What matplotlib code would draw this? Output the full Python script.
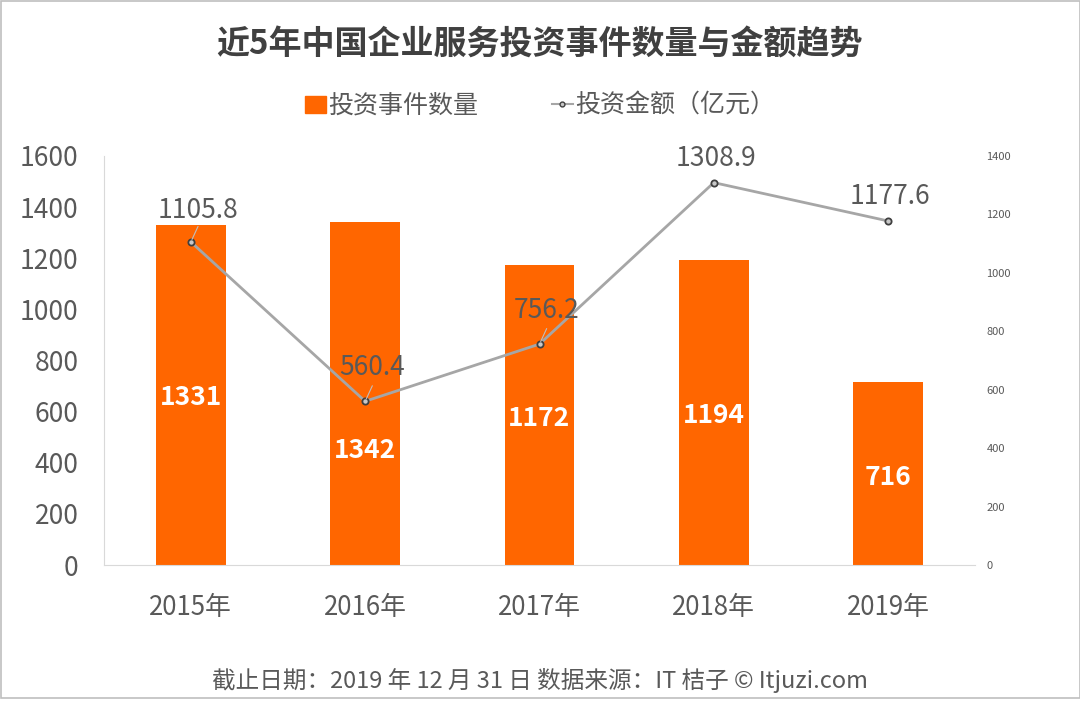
import matplotlib
matplotlib.use('Agg')
import matplotlib.pyplot as plt
from matplotlib.lines import Line2D
from matplotlib.patches import Rectangle

plt.rcParams['font.family'] = ['Noto Sans CJK SC', 'DejaVu Sans']

W, H = 1080, 707

years = ['2015年', '2016年', '2017年', '2018年', '2019年']
deals = [1331, 1342, 1172, 1194, 716]
amount = [1105.8, 560.4, 756.2, 1308.9, 1177.6]
left_ticks = [0, 200, 400, 600, 800, 1000, 1200, 1400, 1600]
right_ticks = [0, 200, 400, 600, 800, 1000, 1200, 1400]

# label placement, the original labels were moved by hand
deal_label_y = [656, 448, 574, 586, 343]
amount_label_dx = [5.5, 5, 5, 1.5, 1]
amount_label_dy = [23, 24, 24, 17.5, 17.5]

ORANGE = '#ff6600'
GREY = '#a6a6a6'
TEXT = '#595959'

fig = plt.figure(figsize=(W / 100, H / 100), dpi=100, facecolor='white')
ax = fig.add_axes([103.7 / W, 1 - 565 / H, 871.6 / W, 409 / H])
x = range(len(years))

ax.bar(x, deals, width=0.4, color=ORANGE, zorder=2)
ax.set_xlim(-0.5, 4.5)
ax.set_ylim(0, 1600)
ax.set_xticks(list(x))
ax.set_xticklabels(years, fontsize=18.6, color=TEXT)
ax.set_yticks(left_ticks)
ax.tick_params(axis='y', labelsize=19, labelcolor=TEXT, length=0, pad=18)
ax.tick_params(axis='x', length=0, pad=21)

ax2 = ax.twinx()
ax2.plot(x, amount, color=GREY, lw=2, marker='o', ms=4.5, mfc='#c8c8c8',
         mec='#404040', mew=1.3, zorder=3)
ax2.set_ylim(0, 1400)
ax2.set_yticks(right_ticks)
ax2.tick_params(axis='y', labelsize=8, labelcolor=TEXT, length=0, pad=8)

for a in (ax, ax2):
    for s in ['top', 'right']:
        a.spines[s].set_visible(False)
    a.spines['left'].set_color('#d9d9d9')
    a.spines['bottom'].set_color('#d9d9d9')
ax2.spines['left'].set_visible(False)
ax2.spines['bottom'].set_visible(False)

for i, v in enumerate(deals):
    ax.text(i, deal_label_y[i], str(v), color='white', fontsize=19, fontweight='bold',
            ha='center', va='center', zorder=4)

for i, v in enumerate(amount):
    ax2.annotate(f'{v:.1f}', (i, v), xytext=(amount_label_dx[i], amount_label_dy[i]),
                 textcoords='offset points', fontsize=19, color=TEXT,
                 ha='center', va='center', zorder=5)
    # leader line for the labels sitting close to the marker
    if i < 3:
        ax2.annotate('', (i, v), xytext=(6, 13), textcoords='offset points',
                     arrowprops=dict(arrowstyle='-', color='#bfbfbf', lw=0.8))

ax.patch.set_visible(False)
ax2.patch.set_visible(False)

fig.text(539.5 / W, 1 - 45 / H, '近5年中国企业服务投资事件数量与金额趋势', fontsize=23.8,
         fontweight='bold', color='#404040', ha='center', va='center')

# legend
handles = [Rectangle((0, 0), 1, 1, color=ORANGE),
           Line2D([], [], color=GREY, lw=1.5, marker='o', ms=3.5, mfc='#c8c8c8',
                  mec='#404040', mew=1)]
labels = ['投资事件数量', '投资金额（亿元）']
fig.legend(handles, labels, loc='center', bbox_to_anchor=(540 / W, 1 - 106 / H), ncol=2,
           frameon=False, fontsize=18, labelcolor=TEXT, columnspacing=2.95,
           handlelength=0.84, handletextpad=0.1, borderpad=0, borderaxespad=0)

fig.text(540 / W, 1 - 680 / H, '截止日期：2019 年 12 月 31 日 数据来源：IT 桔子 © Itjuzi.com',
         fontsize=17, color=TEXT, ha='center', va='center')

# thin frame around the picture, stops above the bottom strip
fig.add_artist(Rectangle((0.5 / W, 1 - 698 / H), (W - 1) / W, 697.5 / H, fill=False,
                         ec='#bfbfbf', lw=1.2, transform=fig.transFigure))

fig.savefig('out.png', dpi=100)
